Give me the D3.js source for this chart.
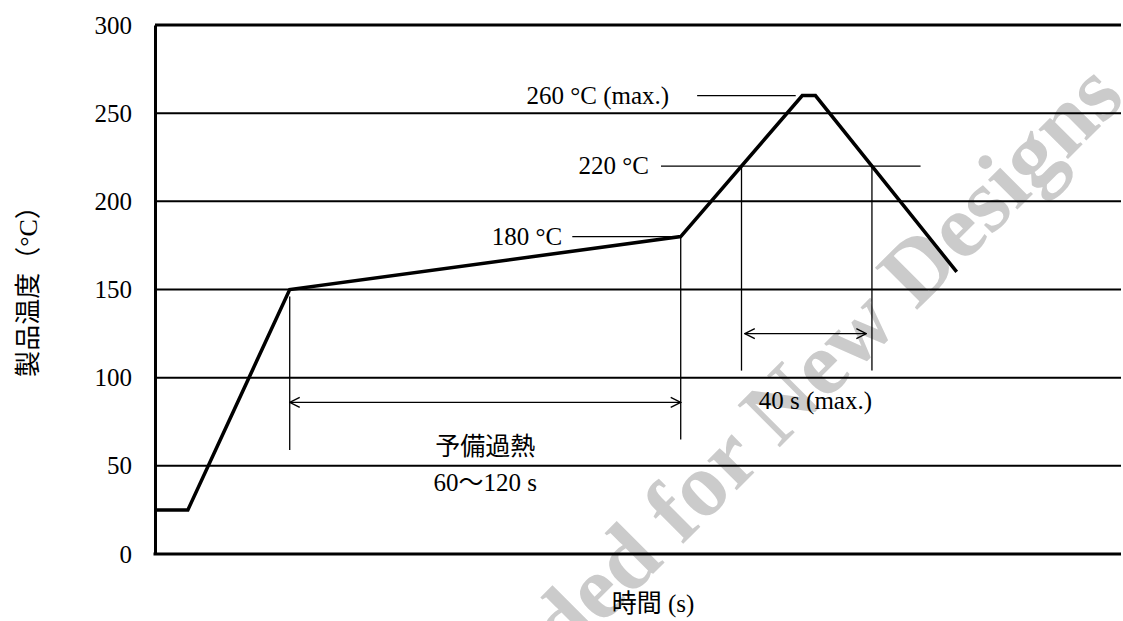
<!DOCTYPE html>
<html>
<head>
<meta charset="utf-8">
<script src="https://cdn.jsdelivr.net/npm/d3@7"></script>
<style>
body{margin:0;background:#fff;}
text{font-family:"Liberation Serif","Noto Sans CJK JP",serif;}
</style>
</head>
<body>
<svg id="chart" width="1123" height="621"></svg>
<script>
// reflow profile (time in s, temperature in degC)
const times = [0, 10, 41, 160, 197, 201, 244];
const temps = [25, 25, 150, 180, 260, 260, 160];
const yTicks = [0, 50, 100, 150, 200, 250, 300];
const yTitle = "製品温度（°C）";
const xTitle = "時間 (s)";

// temperature labels with their leader lines
const tempLabels = ["180 °C", "220 °C", "260 °C (max.)"];
const labelTemps = [180, 220, 260];
const leaderFrom = [127, 154, 165];
const leaderTo = [157, 233, 195];

// dimension lines: [time, topTemp, bottomTemp]
const guides = [[41, 146, 59], [160, 180, 65], [178.5, 220, 104], [218.2, 220, 104]];
// arrows: [t0, t1, temp]
const spans = [[41, 160, 86], [179.5, 216.5, 125]];
// notes: [text, time, temp]
const notes = [["予備過熱", 100.5, 56], ["60～120 s", 100.5, 36], ["40 s (max.)", 201, 82]];
const watermark = "Not Recommended for New Designs";

const svg = d3.select("#chart");
const x = d3.scaleLinear().domain([0, 294]).range([155, 1121]);
const y = d3.scaleLinear().domain([0, 300]).range([554, 25]);

svg.append("defs").append("marker")
	.attr("id","arr")
	.attr("viewBox","0 0 12 12")
	.attr("refX",11).attr("refY",6)
	.attr("markerWidth",12).attr("markerHeight",12)
	.attr("markerUnits","userSpaceOnUse")
	.attr("orient","auto-start-reverse")
	.append("path")
	.attr("d","M1,1 L11,6 L1,11")
	.attr("fill","none")
	.attr("stroke","#000")
	.attr("stroke-width",1.3);

// watermark under everything
svg.append("text")
	.attr("transform","translate(1127,100) rotate(-45)")
	.attr("text-anchor","end")
	.attr("font-size",91)
	.attr("font-weight","bold")
	.attr("fill","#cbcbcb")
	.text(watermark);

// gridlines
svg.append("g")
	.selectAll("line")
	.data(yTicks.filter(d => d > 0))
	.join("line")
	.attr("x1",x(0)).attr("x2",x.range()[1])
	.attr("y1",d => y(d)).attr("y2",d => y(d))
	.attr("stroke","#000")
	.attr("stroke-width",d => d == 300 ? 3 : 2);

// y axis
const yAxis = svg.append("g")
	.attr("transform","translate(" + x(0) + ",0)")
	.call(d3.axisLeft(y).tickValues(yTicks).tickSize(0).tickPadding(23));
yAxis.select(".domain").attr("stroke-width",3);
yAxis.selectAll("text")
	.attr("font-size",25)
	.attr("font-family","Liberation Serif")
	.attr("fill","#000");

// x axis
svg.append("line")
	.attr("x1",x(0) - 1.5).attr("x2",x.range()[1])
	.attr("y1",y(0)).attr("y2",y(0))
	.attr("stroke","#000")
	.attr("stroke-width",3);

// dimension guides
svg.append("g")
	.selectAll("line")
	.data(guides)
	.join("line")
	.attr("x1",d => x(d[0])).attr("x2",d => x(d[0]))
	.attr("y1",d => y(d[1])).attr("y2",d => y(d[2]))
	.attr("stroke","#000")
	.attr("stroke-width",1.3);

svg.append("g")
	.selectAll("line")
	.data(spans)
	.join("line")
	.attr("x1",d => x(d[0])).attr("x2",d => x(d[1]))
	.attr("y1",d => y(d[2])).attr("y2",d => y(d[2]))
	.attr("stroke","#000")
	.attr("stroke-width",1.3)
	.attr("marker-start","url(#arr)")
	.attr("marker-end","url(#arr)");

// leader lines and temperature labels
const gaps = [10, 12, 28];
labelTemps.forEach(function(t, i){
	svg.append("line")
		.attr("x1",x(leaderFrom[i])).attr("x2",x(leaderTo[i]))
		.attr("y1",y(t)).attr("y2",y(t))
		.attr("stroke","#000")
		.attr("stroke-width",1.3);
	svg.append("text")
		.attr("x",x(leaderFrom[i]) - gaps[i])
		.attr("y",y(t))
		.attr("dy","0.33em")
		.attr("text-anchor","end")
		.attr("font-size",25)
		.text(tempLabels[i]);
});

// profile
svg.append("path")
	.datum(d3.zip(times, temps))
	.attr("d",d3.line().x(d => x(d[0])).y(d => y(d[1])))
	.attr("fill","none")
	.attr("stroke","#000")
	.attr("stroke-width",3.5)
	.attr("stroke-linejoin","miter");

svg.append("g")
	.selectAll("text")
	.data(notes)
	.join("text")
	.attr("x",d => x(d[1]))
	.attr("y",d => y(d[2]))
	.attr("text-anchor","middle")
	.attr("font-size",25)
	.text(d => d[0]);

// axis titles
svg.append("text")
	.attr("x",653).attr("y",612)
	.attr("text-anchor","middle")
	.attr("font-size",25)
	.text(xTitle);

svg.append("text")
	.attr("transform","translate(37,285) rotate(-90)")
	.attr("text-anchor","middle")
	.attr("font-size",26)
	.text(yTitle);
</script>
</body>
</html>
